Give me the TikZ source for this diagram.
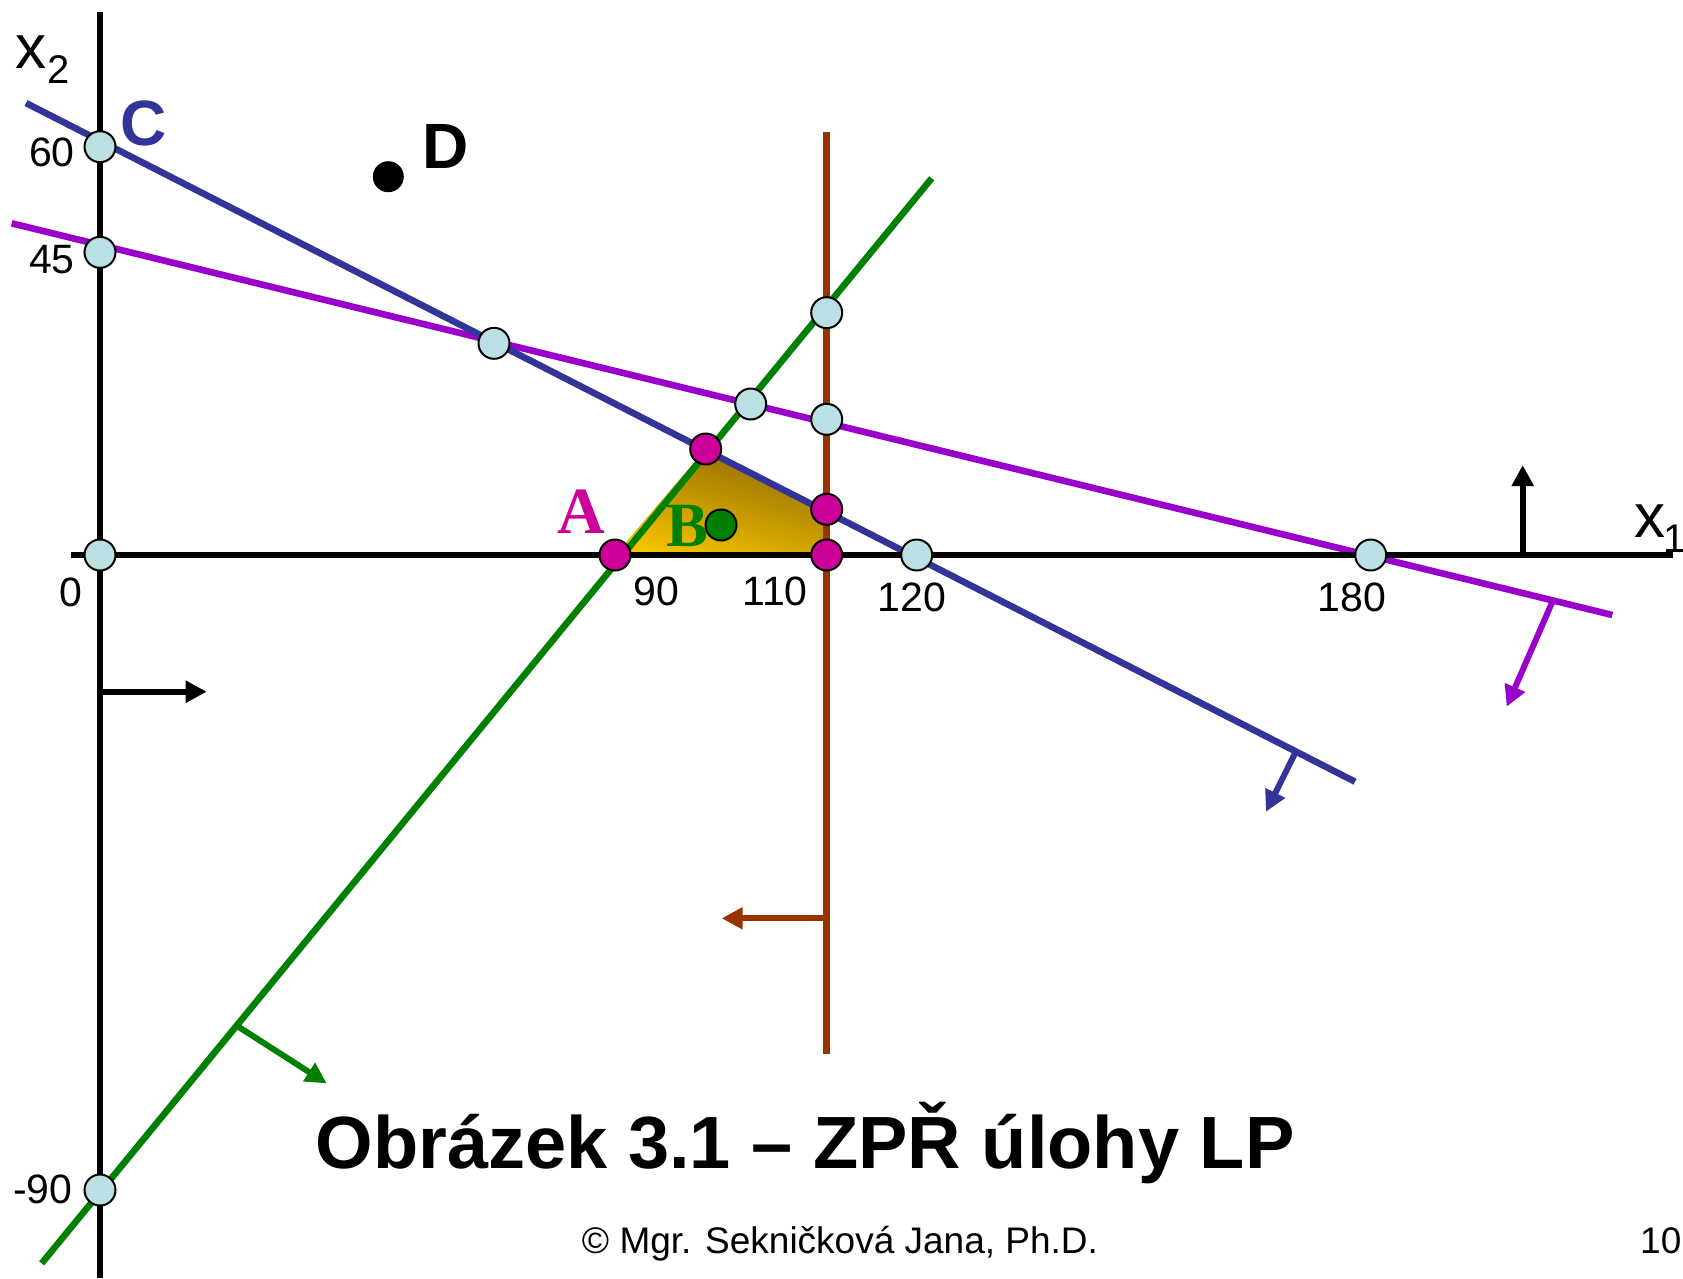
\documentclass[tikz,border=0pt]{standalone}
\usepackage{fontspec}
\setmainfont{Liberation Sans}
\newfontfamily\lpserif{Liberation Serif}
\usetikzlibrary{arrows.meta}
\definecolor{lpblue}{RGB}{51,51,153}
\definecolor{lppurple}{RGB}{153,0,204}
\definecolor{lpgreen}{RGB}{0,128,0}
\definecolor{lpbrown}{RGB}{153,51,0}
\definecolor{lpmag}{RGB}{204,0,153}
\definecolor{lpcyan}{RGB}{187,224,227}
\definecolor{lpyellow}{RGB}{255,204,0}
\definecolor{lpdark}{RGB}{155,116,0}
\pgfdeclareverticalshading{feas}{100bp}{color(0bp)=(lpyellow); color(37bp)=(lpyellow); color(58bp)=(lpdark); color(100bp)=(lpdark)}
\begin{document}
\begin{tikzpicture}[x=1pt,y=-1pt,
  axisline/.style={line width=6.5pt,black},
  cline/.style={line width=6.6pt},
  normarrow/.style={line width=6pt,-{Triangle[length=21pt,width=21pt]}},
  ptc/.style={circle,draw=black,line width=2pt,minimum size=31pt,inner sep=0pt,fill=lpcyan},
  vtx/.style={ptc,fill=lpmag},
  ticklab/.style={font=\fontsize{41}{41}\selectfont,inner sep=0pt},
  biglab/.style={font=\fontsize{64}{64}\selectfont\bfseries,inner sep=0pt,anchor=base west},
]
\useasboundingbox (0,0) rectangle (1683,1278);

% feasible region
\begin{scope}
\clip (615,555) -- (705.7,449) -- (826.7,509.3) -- (826.7,555) -- cycle;
\shade[shading=feas,shading angle=-15] (570,352) rectangle (870,652);
\end{scope}

% line end points
\coordinate (ya1) at (100,12);   \coordinate (ya2) at (100,1278);
\coordinate (xa1) at (71,555);   \coordinate (xa2) at (1673,555);
\coordinate (bl1) at (26,103);   \coordinate (bl2) at (1355,781.7);
\coordinate (pu1) at (11.7,223.3); \coordinate (pu2) at (1612.3,615);
\coordinate (gr1) at (41.7,1263.3); \coordinate (gr2) at (931.7,178.3);
\coordinate (br1) at (826.7,132); \coordinate (br2) at (826.7,1054);

% constraint lines
\draw[cline,lpbrown] (br1) -- (br2);
\draw[cline,lpgreen] (gr1) -- (gr2);
\draw[cline,lppurple] (pu1) -- (pu2);
\draw[cline,lpblue] (bl1) -- (bl2);

% axes
\draw[axisline] (ya1) -- (ya2);
\draw[axisline] (xa1) -- (xa2);

% normal arrows
\coordinate (ka1) at (100,691.7);    \coordinate (kb1) at (206.7,691.7);
\coordinate (ka2) at (1522.7,555);   \coordinate (kb2) at (1522.7,465);
\coordinate (ka3) at (1552.7,601);   \coordinate (kb3) at (1506.7,706.7);
\coordinate (ka4) at (1295,753.3);   \coordinate (kb4) at (1266,811.7);
\coordinate (ka5) at (238.3,1026.7); \coordinate (kb5) at (326.7,1083.3);
\coordinate (ka6) at (826.7,918.3);  \coordinate (kb6) at (721.7,918.3);
\draw[normarrow,black] (ka1) -- (kb1);
\draw[normarrow,black] (ka2) -- (kb2);
\draw[normarrow,lppurple] (ka3) -- (kb3);
\draw[normarrow,lpblue] (ka4) -- (kb4);
\draw[normarrow,lpgreen] (ka5) -- (kb5);
\draw[normarrow,lpbrown] (ka6) -- (kb6);

% intersection points
\node[ptc] (p60) at (100,146.7) {};
\node[ptc] (p45) at (100,252.3) {};
\node[ptc] (p0) at (100,555) {};
\node[ptc] (pm90) at (100,1190) {};
\node[ptc] (p120) at (916.7,555) {};
\node[ptc] (p180) at (1370.7,555) {};
\node[ptc] (pbp) at (494,343.3) {};
\node[ptc] (pgp) at (750.7,404) {};
\node[ptc] (prp) at (826.7,419.3) {};
\node[ptc] (pgr) at (826.7,312.7) {};
\node[vtx] (vA) at (615,555) {};
\node[vtx] (vgb) at (705.7,449) {};
\node[vtx] (vrb) at (826.7,509.3) {};
\node[vtx] (vrx) at (826.7,555) {};
\node[ptc,fill=lpgreen] (ptB) at (721,525) {};
\node[circle,fill=black,minimum size=31pt,inner sep=0pt] (ptD) at (388.3,176.7) {};

% tick labels
\node[ticklab,anchor=base east] (t60) at (75,166.7) {60};
\node[ticklab,anchor=base east] (t45) at (75,273.3) {45};
\node[ticklab,anchor=base east] (tm90) at (72.7,1203) {-90};
\node[ticklab,anchor=base] (t0) at (70.8,606) {0};
\node[ticklab,anchor=base] (t90) at (656.7,605) {90};
\node[ticklab,anchor=base] (t110) at (775,605) {110};
\node[ticklab,anchor=base] (t120) at (911.7,611.7) {120};
\node[ticklab,anchor=base] (t180) at (1351.7,611.7) {180};

% axis names
\node[inner sep=0pt,anchor=base west,font=\fontsize{62}{62}\selectfont] (x2a) at (15,68) {x};
\node[inner sep=0pt,anchor=base west,font=\fontsize{40}{40}\selectfont] (x2b) at (47,83) {2};
\node[inner sep=0pt,anchor=base west,font=\fontsize{62}{62}\selectfont] (x1a) at (1634,537) {x};
\node[inner sep=0pt,anchor=base west,font=\fontsize{40}{40}\selectfont] (x1b) at (1663,552) {1};

% point labels
\node[biglab,text=lpblue] (lC) at (120,145.5) {C};
\node[biglab,text=black] (lD) at (422,168.3) {D};
\node[inner sep=0pt,anchor=base west,text=lpmag,font=\fontsize{66}{66}\selectfont\lpserif\bfseries] (lA) at (557,533.3) {A};
\node[inner sep=0pt,anchor=base west,text=lpgreen,font=\fontsize{63}{63}\selectfont\lpserif\bfseries] (lB) at (666,546.7) {B};

% caption
\node[inner sep=0pt,anchor=base,font=\fontsize{74}{74}\selectfont\bfseries] (title) at (805,1168) {Obrázek 3.1 – ZPŘ úlohy LP};
\node[inner sep=0pt,anchor=base,font=\fontsize{37}{37}\selectfont] (foot) at (840,1253) {© Mgr. Sekničková Jana, Ph.D.};
\node[inner sep=0pt,anchor=base west,font=\fontsize{37}{37}\selectfont] (page) at (1640,1253) {10};
\end{tikzpicture}
\end{document}
